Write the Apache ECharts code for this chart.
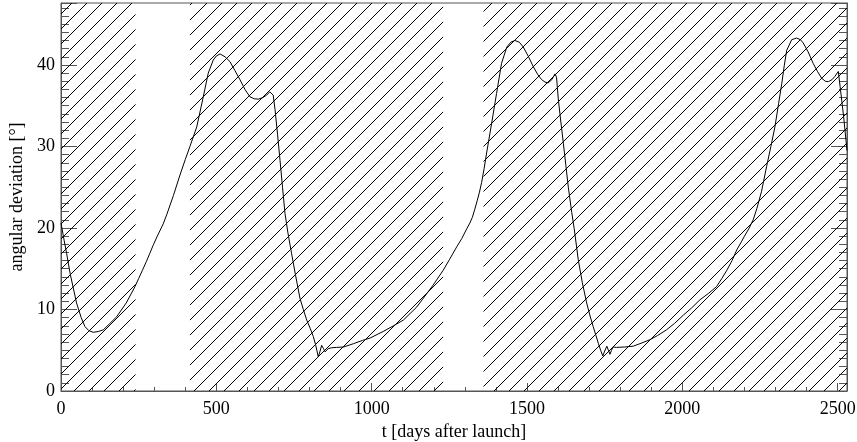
<!DOCTYPE html>
<html>
<head>
<meta charset="utf-8">
<script src="https://cdn.jsdelivr.net/npm/echarts@6/dist/echarts.min.js"></script>
<style>
html,body{margin:0;padding:0;background:#fff;}
#chart{width:857px;height:442px;}
</style>
</head>
<body>
<div id="chart"></div>
<script>
// time in days after launch
const tDays = [
0,10,18,30,50,65,77,90,104,120,136,155,179,210,238,250,262,275,286,298,310,329,340,362,383,400,415,437,458,474,490,500,512,528,544,560,576,592,608,622,635,650,662,672,678,683,689,697,705,713,721,730,742,755,769,780,791,802,812,820,828,834,839,845,850,855,860,870,887,910,941,970,995,1037,1070,1102,1145,1198,1230,1250,1274,1290,1306,1316,1324,1332,1340,1347,1354,1362,1370,1386,1402,1418,1435,1448,1461,1475,1488,1505,1520,1535,1547,1558,1568,1580,1590,1595,1601,1609,1617,1625,1633,1644,1652,1665,1678,1692,1703,1713,1722,1730,1737,1744,1750,1757,1762,1767,1772,1777,1788,1815,1842,1870,1896,1920,1949,1975,2003,2030,2057,2085,2110,2127,2143,2160,2175,2190,2200,2214,2228,2240,2255,2271,2285,2298,2310,2320,2328,2336,2352,2368,2380,2389,2405,2421,2435,2448,2460,2470,2482,2491,2502,2508,2519,2530
];
// angular deviation in degrees
const deviation = [
20.6,18.5,16.9,14.3,10.8,9.0,7.9,7.4,7.2,7.3,7.5,8.2,9.1,10.8,12.8,13.8,14.8,15.9,16.9,18.0,19.0,20.5,21.6,24.0,26.5,28.4,30.0,32.4,36.1,39.0,40.6,41.1,41.35,41.0,40.4,39.3,38.2,37.0,36.1,35.85,35.8,36.0,36.3,36.7,36.85,36.3,34.5,31.5,28.3,25.0,21.8,19.5,16.9,14.2,11.4,10.0,8.7,7.7,6.7,5.6,4.2,4.9,5.6,5.2,4.8,5.0,5.2,5.3,5.35,5.4,5.8,6.2,6.5,7.3,8.0,8.7,10.3,13.0,14.8,16.1,17.7,18.7,19.9,20.6,21.3,22.3,23.4,24.4,25.6,27.3,29.2,32.8,36.5,40.2,42.2,42.8,43.0,42.8,42.2,41.0,39.8,38.8,38.2,37.9,37.8,38.2,38.9,38.5,35.7,33.0,30.4,27.7,25.0,21.9,19.9,16.1,13.3,10.8,9.2,7.9,6.8,5.8,5.0,4.3,4.9,5.5,5.0,4.5,5.0,5.4,5.35,5.4,5.5,5.9,6.3,6.8,7.5,8.3,9.3,10.2,11.2,12.0,12.8,13.8,14.8,16.0,17.3,18.3,19.0,19.9,21.0,22.4,24.5,27.5,30.0,32.4,35.3,37.7,39.9,41.8,43.1,43.3,43.1,42.7,41.6,40.2,39.2,38.4,38.0,37.95,38.2,38.6,39.2,37.3,33.7,29.5
];
// hatched intervals (days)
const hatchStart = [0, 415, 1360];
const hatchEnd = [240, 1230, 2530];

const xTickInterval = 500;
const yTickInterval = 10;

const FONT = 'Liberation Serif';
const FS = 18;
const AXIS_COLOR = '#555';

// hatch pattern tile
const tile = document.createElement('canvas');
tile.width = 15; tile.height = 15;
const ctx = tile.getContext('2d');
ctx.strokeStyle = '#000';
ctx.lineWidth = 1;
ctx.beginPath();
ctx.moveTo(-1, 16); ctx.lineTo(16, -1);
ctx.moveTo(-1, 1); ctx.lineTo(1, -1);
ctx.moveTo(14, 16); ctx.lineTo(16, 14);
ctx.stroke();

const lineData = tDays.map((t, i) => [t, deviation[i]]);
const areaData = hatchStart.map((s, i) => [{ xAxis: s }, { xAxis: hatchEnd[i] }]);

const chart = echarts.init(document.getElementById('chart'), null, { renderer: 'canvas' });

const yBase = {
  type: 'value', min: 0, max: 47.6, interval: yTickInterval,
  splitLine: { show: false },
  axisLine: { show: true, lineStyle: { color: AXIS_COLOR, width: 1 } },
  axisTick: { show: true, inside: true, length: 16, lineStyle: { color: AXIS_COLOR } },
  minorTick: { show: true, splitNumber: 10, length: 8, lineStyle: { color: AXIS_COLOR } },
  minorSplitLine: { show: false }
};

chart.setOption({
  animation: false,
  backgroundColor: '#fff',
  grid: { left: 61, right: 10, top: 3, bottom: 51, containLabel: false, outerBoundsMode: 'none',
          show: true, borderColor: AXIS_COLOR, borderWidth: 1, backgroundColor: 'transparent' },
  xAxis: {
    type: 'value', min: 0, max: 2530, interval: xTickInterval,
    splitLine: { show: false },
    axisLine: { show: true, lineStyle: { color: AXIS_COLOR, width: 1 } },
    axisTick: { show: true, inside: true, length: 8, lineStyle: { color: AXIS_COLOR } },
    minorTick: { show: true, splitNumber: 5, length: 4, lineStyle: { color: AXIS_COLOR } },
    axisLabel: { margin: 9, fontSize: FS, fontFamily: FONT, color: '#000', showMaxLabel: false,
                 formatter: v => String(v) },
    name: 't [days after launch]', nameLocation: 'middle', nameGap: 27,
    nameTextStyle: { fontSize: FS, fontFamily: FONT, color: '#000' }
  },
  yAxis: [
    Object.assign({}, yBase, {
      position: 'left',
      axisLabel: { margin: 6, fontSize: FS, fontFamily: FONT, color: '#000', showMaxLabel: false,
                   formatter: v => String(v) },
      name: 'angular deviation [°]', nameLocation: 'middle', nameGap: 34,
      nameTextStyle: { fontSize: FS, fontFamily: FONT, color: '#000' }
    }),
    Object.assign({}, yBase, {
      position: 'right',
      axisLabel: { show: false }
    })
  ],
  series: [{
    type: 'line',
    data: lineData,
    showSymbol: false,
    symbol: 'none',
    lineStyle: { color: '#000', width: 1 },
    z: 5,
    markArea: {
      silent: true,
      itemStyle: { color: { image: tile, repeat: 'repeat' }, opacity: 1, borderWidth: 0 },
      data: areaData
    }
  }]
});
</script>
</body>
</html>
